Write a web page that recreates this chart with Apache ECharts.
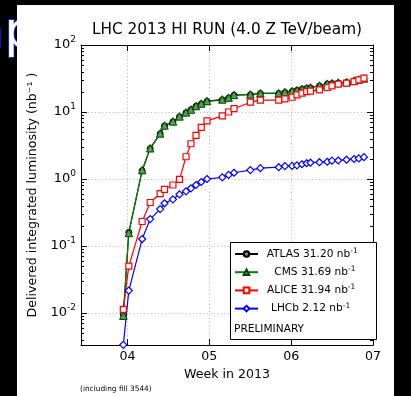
<!DOCTYPE html>
<html>
<head>
<meta charset="utf-8">
<script src="https://cdn.jsdelivr.net/npm/echarts@6.0.0/dist/echarts.min.js"></script>
<style>
html, body { margin: 0; padding: 0; background: #000; }
#main { width: 411px; height: 396px; }
</style>
</head>
<body>
<div id="main"></div>
<script>
// 周(2013年) / 累计亮度 nb^-1
var weeks = [3.950, 4.017, 4.180, 4.278, 4.400, 4.453, 4.556, 4.636, 4.716, 4.776, 4.838, 4.902, 4.972,
    5.159, 5.236, 5.302, 5.502, 5.624, 5.848, 5.924, 6.012, 6.071, 6.132, 6.190, 6.236, 6.346, 6.441,
    6.499, 6.575, 6.677, 6.769, 6.827, 6.889];
var atlas = [0.0095, 0.16, 1.33, 2.84, 4.72, 6.2, 7.15, 8.5, 9.75, 10.8, 12.2, 13.2, 14.4, 15.2, 16.2, 17.8,
    18.1, 18.9, 18.9, 19.6, 20.3, 21.0, 21.9, 22.5, 23.0, 24.5, 26.2, 26.6, 27.2, 27.6, 29.0, 30.2, 31.20];
var cms = [0.0091, 0.157, 1.36, 2.88, 4.79, 6.3, 7.24, 8.6, 9.87, 10.9, 12.3, 13.4, 14.6, 15.4, 16.4, 18.0,
    18.3, 19.1, 19.1, 19.8, 20.5, 21.2, 22.1, 22.7, 23.2, 24.8, 26.5, 26.9, 27.5, 27.9, 29.4, 30.6, 31.69];
var alice = [0.0113, 0.050, 0.232, 0.446, 0.607, 0.702, 0.814, 0.99, 2.15, 3.36, 4.47, 5.89, 7.36, 8.74, 10.0,
    11.2, 14.0, 15.0, 15.0, 15.7, 16.6, 18.0, 19.1, 20.2, 20.5, 21.4, 23.2, 24.5, 26.0, 26.9, 28.5, 30.2, 31.94];
var lhcb = [0.00335, 0.0216, 0.127, 0.252, 0.356, 0.434, 0.497, 0.591, 0.655, 0.726, 0.814, 0.902, 1.0, 1.06,
    1.15, 1.24, 1.36, 1.45, 1.50, 1.56, 1.57, 1.60, 1.66, 1.72, 1.75, 1.78, 1.81, 1.88, 1.89, 1.94, 1.99, 2.03, 2.12];

var legendNames = ['ATLAS', 'CMS', 'ALICE', 'LHCb'];
var legendTotals = ['31.20', '31.69', '31.94', '2.12'];
var xTickValues = [4, 5, 6, 7];

var xMin = 3.433, xMax = 7;
var yMin = 0.00333, yMax = 100;
var FONT = 'DejaVu Sans';

var myChart = echarts.init(document.getElementById('main'));

function pairs(ys) {
    return weeks.map(function (w, i) { return [w, ys[i]]; });
}

// 对数轴的次刻度 2..9
var minorTicks = [];
for (var e = -3; e < 2; e++) {
    for (var m = 2; m <= 9; m++) {
        var v = m * Math.pow(10, e);
        if (v > yMin && v < yMax) minorTicks.push([xMin, v]);
    }
}

function logLabel(v) {
    var lg = Math.log10(v);
    var e = Math.round(lg);
    if (Math.abs(lg - e) > 1e-6) return '';
    return '{b|10}{s|' + (e < 0 ? '-' : '') + Math.abs(e) + '}';
}

var legendPad = { 'ATLAS': 3.7, 'CMS': 11.3, 'ALICE': 4, 'LHCb': 8 };
var legendRich = { s: { fontFamily: FONT, fontSize: 7.5, lineHeight: 14, verticalAlign: 'top', color: '#000' } };
legendNames.forEach(function (n) {
    legendRich[n] = { fontFamily: FONT, fontSize: 10.6, lineHeight: 14, color: '#000', padding: [0, 0, 0, legendPad[n]] };
});

var gridLine = { show: true, lineStyle: { color: '#b4b4b4', type: [1, 2.5], width: 1 } };

option = {
    backgroundColor: '#000',
    animation: false,
    grid: { left: 81, right: 38, top: 45, bottom: 51 },
    graphic: [
        {
            type: 'text', z: -2, left: -27, top: 8,
            style: { text: 'ap', font: '50px "DejaVu Sans"', fill: '#fff', stroke: '#2233ff', lineWidth: 1.5 }
        },
        { type: 'rect', z: -1, shape: { x: 17, y: 5, width: 377, height: 391 }, style: { fill: '#fff' } },
        {
            type: 'text', x: 227, y: 30, z: 5,
            style: { text: 'LHC 2013 HI RUN (4.0 Z TeV/beam)', font: '15.3px "DejaVu Sans"', fill: '#000', align: 'center', verticalAlign: 'middle' }
        },
        {
            type: 'text', x: 80, y: 389, z: 5,
            style: { text: '(including fill 3544)', font: '7.4px "DejaVu Sans"', fill: '#000', align: 'left', verticalAlign: 'middle' }
        },
        // 图例框
        {
            type: 'rect', z: 3, shape: { x: 230.5, y: 242.5, width: 146, height: 97 },
            style: { fill: '#fff', stroke: '#000', lineWidth: 1 }
        },
        {
            type: 'text', x: 234, y: 329, z: 5,
            style: { text: 'PRELIMINARY', font: '10.6px "DejaVu Sans"', fill: '#000', align: 'left', verticalAlign: 'middle' }
        }
    ],
    legend: {
        data: legendNames,
        orient: 'vertical',
        left: 234,
        top: 247,
        padding: 0,
        itemWidth: 23,
        itemHeight: 7,
        itemGap: 5.7,
        selectedMode: false,
        formatter: function (name) {
            var i = legendNames.indexOf(name);
            return '{' + name + '|' + name + ' ' + legendTotals[i] + ' nb}{s|-1}';
        },
        textStyle: { rich: legendRich }
    },
    xAxis: [
        {
            type: 'value', min: xMin, max: xMax, position: 'bottom',
            name: 'Week in 2013', nameLocation: 'middle', nameGap: 17,
            nameTextStyle: { fontFamily: FONT, fontSize: 12.6, color: '#000' },
            axisLine: { show: true, onZero: false, lineStyle: { color: '#000', width: 1 } },
            axisTick: { inside: true, length: 6, customValues: xTickValues, lineStyle: { color: '#000' } },
            axisLabel: {
                customValues: xTickValues, margin: 5, fontFamily: FONT, fontSize: 12.6, color: '#000',
                formatter: function (v) { return '0' + v; }
            },
            splitLine: gridLine
        },
        {
            type: 'value', min: xMin, max: xMax, position: 'top',
            axisLine: { show: true, onZero: false, lineStyle: { color: '#000', width: 1 } },
            axisTick: { inside: true, length: 6, customValues: xTickValues, lineStyle: { color: '#000' } },
            axisLabel: { show: false },
            splitLine: { show: false }
        }
    ],
    yAxis: [
        {
            type: 'log', logBase: 10, min: yMin, max: yMax, position: 'left',
            name: 'Delivered integrated luminosity (nb⁻¹ )', nameLocation: 'middle', nameGap: 41,
            nameTextStyle: { fontFamily: FONT, fontSize: 12.6, color: '#000' },
            axisLine: { show: true, lineStyle: { color: '#000', width: 1 } },
            axisTick: { inside: true, length: 6, lineStyle: { color: '#000' } },
            axisLabel: {
                margin: 5, showMinLabel: false, formatter: logLabel,
                rich: {
                    b: { fontFamily: FONT, fontSize: 13, lineHeight: 20, color: '#000' },
                    s: { fontFamily: FONT, fontSize: 9, lineHeight: 20, verticalAlign: 'top', color: '#000' }
                }
            },
            splitLine: gridLine
        },
        {
            type: 'log', logBase: 10, min: yMin, max: yMax, position: 'right',
            axisLine: { show: true, lineStyle: { color: '#000', width: 1 } },
            axisTick: { inside: true, length: 6, lineStyle: { color: '#000' } },
            axisLabel: { show: false },
            splitLine: { show: false }
        }
    ],
    series: [
        {
            name: 'ATLAS', type: 'line', data: pairs(atlas),
            symbol: 'circle', symbolSize: 6, showAllSymbol: true,
            lineStyle: { color: '#000', width: 1.2 },
            itemStyle: { color: '#808080', borderColor: '#000', borderWidth: 1 },
            emphasis: { disabled: true }
        },
        {
            name: 'CMS', type: 'line', data: pairs(cms),
            symbol: 'triangle', symbolSize: 7.5, showAllSymbol: true,
            lineStyle: { color: '#008000', width: 1.2 },
            itemStyle: { color: '#4aa84a', borderColor: '#0b3d0b', borderWidth: 1 },
            emphasis: { disabled: true }
        },
        {
            name: 'ALICE', type: 'line', data: pairs(alice),
            symbol: 'rect', symbolSize: 6, showAllSymbol: true,
            lineStyle: { color: '#ff0000', width: 1.2 },
            itemStyle: { color: '#fff', borderColor: '#ff0000', borderWidth: 1.2 },
            emphasis: { disabled: true }
        },
        {
            name: 'LHCb', type: 'line', data: pairs(lhcb),
            symbol: 'path://M0,-1L1,0L0,1L-1,0Z', symbolSize: 7, showAllSymbol: true,
            lineStyle: { color: '#0000ff', width: 1.2 },
            itemStyle: { color: '#fff', borderColor: '#0000ff', borderWidth: 1.2 },
            emphasis: { disabled: true }
        },
        {
            name: 'minor', type: 'custom', silent: true, data: minorTicks, z: 1,
            renderItem: function (params, api) {
                var v = api.value(1);
                var l = api.coord([xMin, v]);
                var r = api.coord([xMax, v]);
                var y = Math.round(l[1]) + 0.5;
                return {
                    type: 'group', children: [
                        { type: 'line', shape: { x1: l[0], y1: y, x2: l[0] + 3, y2: y }, style: { stroke: '#000', lineWidth: 1 } },
                        { type: 'line', shape: { x1: r[0] - 3, y1: y, x2: r[0], y2: y }, style: { stroke: '#000', lineWidth: 1 } }
                    ]
                };
            }
        }
    ]
};
myChart.setOption(option);
</script>
</body>
</html>
